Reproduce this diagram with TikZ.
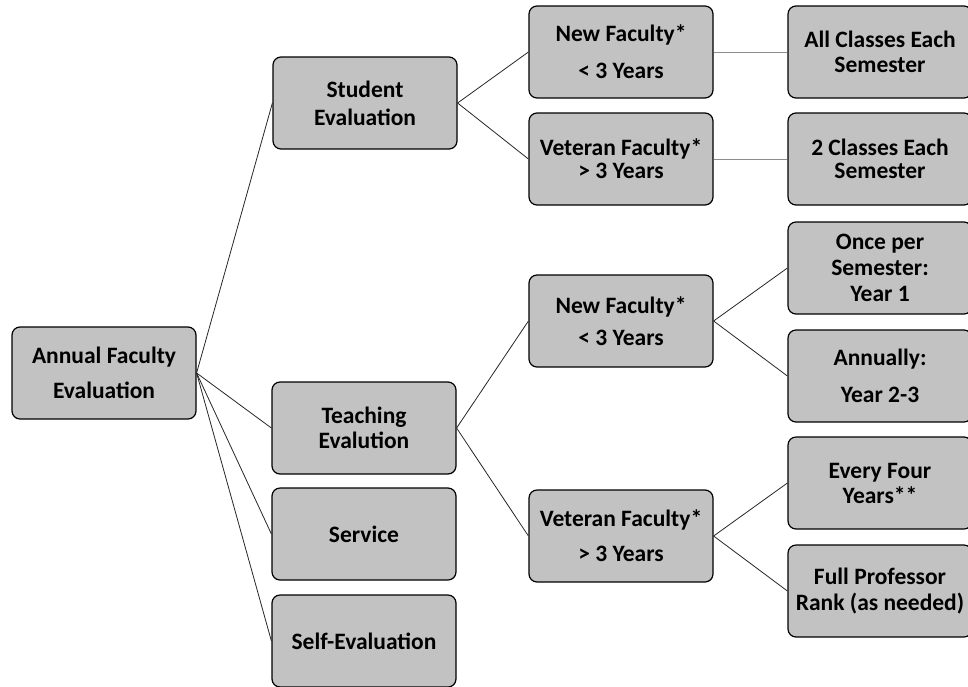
\documentclass[tikz,border=0pt]{standalone}
\usepackage{fontspec}
\setmainfont{Carlito}
\begin{document}
\begin{tikzpicture}[x=1pt, y=-1pt, font=\fontsize{23.5}{26}\selectfont\bfseries, align=center]

    % Styles
    \tikzstyle{box} = [draw=black, line width=1.2pt, rounded corners=8pt, fill=black!24, minimum width=184pt, minimum height=92pt, inner sep=0pt]
    \tikzstyle{link} = [draw=black!85, line width=0.8pt]
    \tikzstyle{faint} = [draw=black!45, line width=1pt]

    \useasboundingbox (0,0) rectangle (968,686);
    \clip (0,0) rectangle (968,686);

    % Root
    \node[box] (root) at (104,373) {Annual Faculty\\[9pt] Evaluation};

    % Main areas
    \node[box] (student) at (365,103) {Student\\[2pt] Evaluation};
    \node[box] (teach) at (364,428) {Teaching\\[-1pt] Evalution};
    \node[box] (service) at (364,534) {Service};
    \node[box] (self) at (364,641) {Self-Evaluation};

    % Faculty groups
    \node[box] (snew) at (621,52) {New Faculty*\\[11pt] < 3 Years};
    \node[box] (svet) at (621,159) {Veteran Faculty*\\[-3pt] > 3 Years};
    \node[box] (tnew) at (621,321) {New Faculty*\\[6pt] < 3 Years};
    \node[box] (tvet) at (621,536) {Veteran Faculty*\\[9pt] > 3 Years};

    % Schedules
    \node[box] (sall) at (880,52) {All Classes Each\\[-1pt] Semester};
    \node[box] (stwo) at (880,159) {2 Classes Each\\[-3pt] Semester};
    \node[box] (tonce) at (880,268) {Once per\\ Semester:\\ Year 1};
    \node[box] (tyear) at (880,376) {Annually:\\[11pt] Year 2-3};
    \node[box] (tfour) at (880,483) {Every Four\\[-1pt] Years**};
    \node[box] (tfull) at (880,591) {Full Professor\\ Rank (as needed)};

    % Connections
    \foreach \j in {student,teach,service,self}
        \draw[link] (root.east) -- (\j.west);

    \foreach \i/\j in {student/snew, student/svet, teach/tnew, teach/tvet, tnew/tonce, tnew/tyear, tvet/tfour, tvet/tfull}
        \draw[link] (\i.east) -- (\j.west);

    \draw[faint] (snew) -- (sall);
    \draw[faint] (svet) -- (stwo);

\end{tikzpicture}
\end{document}
